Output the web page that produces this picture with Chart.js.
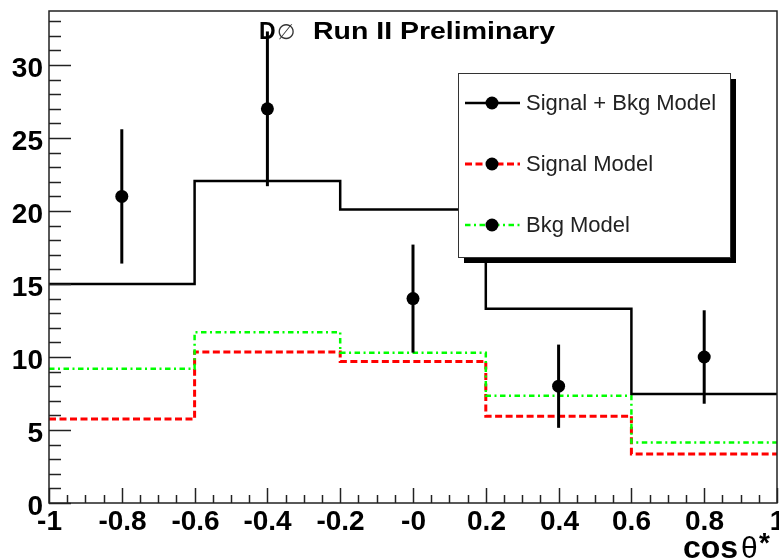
<!DOCTYPE html>
<html><head><meta charset="utf-8">
<script src="https://cdn.jsdelivr.net/npm/chart.js@4"></script>
<style>html,body{margin:0;padding:0;background:#fff;}canvas{display:block;}</style>
</head><body>
<canvas id="c" width="779" height="560"></canvas>
<script>
// ---- data ----
const binEdges = [-1, -0.6, -0.2, 0.2, 0.6, 1];
const sigBkgModel = [15.0, 22.05, 20.1, 13.3, 7.47];
const signalModel = [5.75, 10.35, 9.7, 5.95, 3.35];
const bkgModel = [9.2, 11.7, 10.3, 7.35, 4.15];
const dataX = [-0.8, -0.4, 0.0, 0.4, 0.8];
const dataY = [21, 27, 14, 8, 10];
const dataErr = [4.6, 5.3, 3.7, 2.85, 3.2];
const xTickLabels = ['-1','-0.8','-0.6','-0.4','-0.2','-0','0.2','0.4','0.6','0.8','1'];
const yTickLabels = ['0','5','10','15','20','25','30'];
const legendLabels = ['Signal + Bkg Model','Signal Model','Bkg Model'];
const titleParts = ['D', '\u2205', 'Run II Preliminary'];
const xTitleParts = ['cos', '\u03B8', '*'];

const xTickValues = Array.from({length: 41}, (_, i) => Math.round((-1 + i * 0.05) * 1000) / 1000);
const yTickValues = Array.from({length: 34}, (_, i) => i);

function makeSteps(values) {
  return binEdges.map((e, i) => ({x: e, y: values[Math.min(i, values.length - 1)]}));
}

const FONT = "'Liberation Sans', Arial, Helvetica, sans-serif";
const RED = '#ff0000', GREEN = '#00ff00';
const redDash = [7, 3.5];
const greenDash = [5.5, 3.5, 2, 3.5];

const rootPlugin = {
  id: 'rootStyle',
  beforeDatasetDraw(chart, args) {
    if (args.index !== 0) return;
    const {ctx, scales: {x, y}} = chart;
    ctx.save();
    ctx.strokeStyle = '#000';
    ctx.lineWidth = 3;
    dataX.forEach((xv, i) => {
      const px = x.getPixelForValue(xv);
      ctx.beginPath();
      ctx.moveTo(px, y.getPixelForValue(dataY[i] - dataErr[i]));
      ctx.lineTo(px, y.getPixelForValue(dataY[i] + dataErr[i]));
      ctx.stroke();
    });
    ctx.restore();
  },
  afterDatasetsDraw(chart) {
    const {ctx, chartArea: a, scales: {x, y}} = chart;
    ctx.save();
    ctx.strokeStyle = '#222';
    ctx.lineWidth = 1.5;
    // x ticks (inside) + labels
    ctx.fillStyle = '#000';
    ctx.font = 'bold 28px ' + FONT;
    ctx.textBaseline = 'alphabetic';
    x.ticks.forEach((t, i) => {
      const px = Math.round(x.getPixelForValue(t.value)) + 0.5;
      const major = i % 4 === 0;
      const len = major ? 15 : 8;
      ctx.beginPath(); ctx.moveTo(px, a.bottom); ctx.lineTo(px, a.bottom - len); ctx.stroke();
      if (major) {
        ctx.textAlign = 'center';
        ctx.fillText(xTickLabels[i / 4], px, a.bottom + 27);
      }
    });
    // y ticks (inside) + labels
    y.ticks.forEach((t, i) => {
      const py = Math.round(y.getPixelForValue(t.value)) + 0.5;
      const major = i % 5 === 0;
      const len = major ? 22 : 12;
      ctx.beginPath(); ctx.moveTo(a.left, py); ctx.lineTo(a.left + len, py); ctx.stroke();
      if (major && yTickLabels[i / 5] !== undefined) {
        ctx.textAlign = 'right';
        ctx.fillText(yTickLabels[i / 5], a.left - 6, py + 11.5);
      }
    });
    // frame
    ctx.strokeRect(a.left, a.top, a.right - a.left, a.bottom - a.top);
    ctx.restore();
  },
  afterDraw(chart) {
    const {ctx} = chart;
    ctx.save();
    // ---- legend box ----
    const bx = 458, by = 73, bw = 272, bh = 184;
    ctx.fillStyle = '#000';
    ctx.fillRect(bx + 6, by + 6, bw, bh);
    ctx.fillStyle = '#fff';
    ctx.fillRect(bx, by, bw, bh);
    ctx.strokeStyle = '#333';
    ctx.lineWidth = 1;
    ctx.strokeRect(bx + 0.5, by + 0.5, bw, bh);
    const styles = [
      {color: '#000', dash: [], width: 2.5},
      {color: RED, dash: redDash, width: 3},
      {color: GREEN, dash: greenDash, width: 2.5}
    ];
    legendLabels.forEach((lab, i) => {
      const ry = by + 30 + i * 61;
      const st = styles[i];
      ctx.strokeStyle = st.color;
      ctx.lineWidth = st.width;
      ctx.setLineDash(st.dash);
      ctx.beginPath(); ctx.moveTo(bx + 7, ry); ctx.lineTo(bx + 62, ry); ctx.stroke();
      ctx.setLineDash([]);
      ctx.fillStyle = '#000';
      ctx.beginPath(); ctx.arc(bx + 34, ry, 6.5, 0, Math.PI * 2); ctx.fill();
      ctx.fillStyle = '#222';
      ctx.font = '22px ' + FONT;
      ctx.textBaseline = 'alphabetic';
      ctx.textAlign = 'left';
      ctx.fillText(lab, bx + 68, ry + 7);
    });
    // ---- title ----
    ctx.fillStyle = '#000';
    ctx.textBaseline = 'alphabetic';
    ctx.textAlign = 'left';
    ctx.font = 'bold 23px ' + FONT;
    ctx.fillText(titleParts[0], 259, 39);
    ctx.font = '21px DejaVu Sans, ' + FONT;
    ctx.fillStyle = '#333';
    ctx.fillText(titleParts[1], 277, 39);
    ctx.fillStyle = '#000';
    ctx.font = 'bold 23px ' + FONT;
    const w = ctx.measureText(titleParts[2]).width;
    ctx.save();
    ctx.translate(313, 39);
    ctx.scale(242 / w, 1);
    ctx.fillText(titleParts[2], 0, 0);
    ctx.restore();
    // ---- x axis title ----
    ctx.font = 'bold 32px ' + FONT;
    ctx.fillText(xTitleParts[0], 683, 558);
    ctx.font = '30px ' + FONT;
    ctx.fillText(xTitleParts[1], 741, 558);
    ctx.font = 'bold 28px ' + FONT;
    ctx.fillText(xTitleParts[2], 759, 552);
    ctx.restore();
  }
};

new Chart(document.getElementById('c'), {
  type: 'line',
  data: {
    datasets: [
      {
        label: 'Data',
        data: dataX.map((xv, i) => ({x: xv, y: dataY[i]})),
        showLine: false,
        pointRadius: 6.5,
        pointBackgroundColor: '#000',
        pointBorderColor: '#000',
        pointBorderWidth: 0,
        order: 0
      },
      {
        label: legendLabels[0],
        data: makeSteps(sigBkgModel),
        stepped: true,
        borderColor: '#000',
        borderWidth: 2.5,
        pointRadius: 0,
        fill: false,
        order: 1
      },
      {
        label: legendLabels[2],
        data: makeSteps(bkgModel),
        stepped: true,
        borderColor: GREEN,
        borderWidth: 2.5,
        borderDash: greenDash,
        pointRadius: 0,
        fill: false,
        order: 2
      },
      {
        label: legendLabels[1],
        data: makeSteps(signalModel),
        stepped: true,
        borderColor: RED,
        borderWidth: 3,
        borderDash: redDash,
        pointRadius: 0,
        fill: false,
        order: 3
      }
    ]
  },
  options: {
    responsive: false,
    animation: false,
    layout: {autoPadding: false, padding: {top: 11, right: 2, left: 0, bottom: 0}},
    plugins: {legend: {display: false}, title: {display: false}, tooltip: {enabled: false}},
    scales: {
      x: {
        type: 'linear', min: -1, max: 1, position: 'bottom',
        grid: {display: false, drawTicks: false},
        border: {display: false},
        afterBuildTicks: s => { s.ticks = xTickValues.map(v => ({value: v})); },
        ticks: {display: false, autoSkip: false},
        afterFit: s => { s.height = 57; s.paddingLeft = 0; s.paddingRight = 0; }
      },
      y: {
        type: 'linear', min: 0, max: 33.7,
        grid: {display: false, drawTicks: false},
        border: {display: false},
        afterBuildTicks: s => { s.ticks = yTickValues.map(v => ({value: v})); },
        ticks: {display: false, autoSkip: false},
        afterFit: s => { s.width = 49; s.paddingTop = 0; s.paddingBottom = 0; }
      }
    }
  },
  plugins: [rootPlugin]
});
</script>
</body></html>
